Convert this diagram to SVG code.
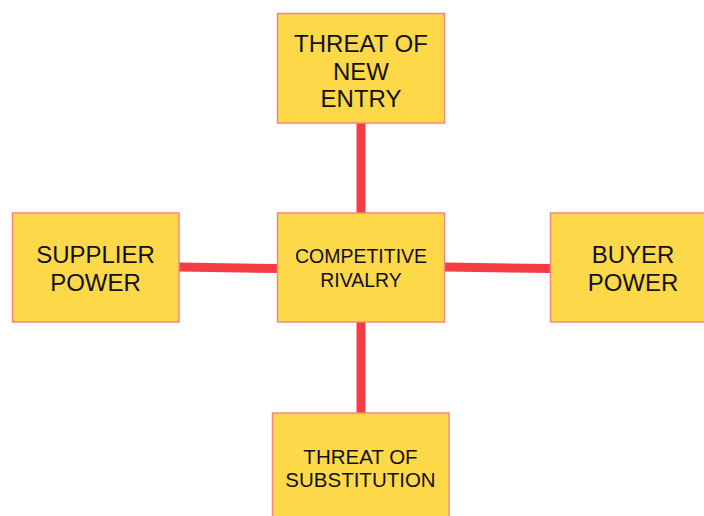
<svg xmlns="http://www.w3.org/2000/svg" width="704" height="516" viewBox="0 0 704 516">
  <style>
    .box { fill: #fdd94a; stroke: #f7877c; stroke-width: 1.5; }
    .link { stroke: #f53c44; stroke-width: 9; fill: none; }
    .lbl { font-family: "Liberation Sans", Arial, sans-serif; fill: #111; text-anchor: middle; }
    .big { font-size: 24px; }
    .mid { font-size: 19.5px; }
    .sml { font-size: 20.5px; }
  </style>
  <rect width="704" height="516" fill="#ffffff"/>

  <!-- spokes joining the centre box to the four forces -->
  <g id="connectors">
    <line class="link" x1="361" y1="123" x2="361" y2="213"/>
    <line class="link" x1="361" y1="322" x2="361" y2="413"/>
    <line class="link" x1="179" y1="267" x2="278" y2="268.5"/>
    <line class="link" x1="444" y1="267" x2="551" y2="268.5"/>
  </g>

  <g id="threat-new-entry">
    <rect class="box" x="277.5" y="13.5" width="167" height="109.5"/>
    <text class="lbl big" x="361" y="52">THREAT OF</text>
    <text class="lbl big" x="361" y="79.5">NEW</text>
    <text class="lbl big" x="361" y="107">ENTRY</text>
  </g>

  <g id="supplier-power">
    <rect class="box" x="12.5" y="213" width="166.5" height="109"/>
    <text class="lbl big" x="95.5" y="263">SUPPLIER</text>
    <text class="lbl big" x="95.5" y="291">POWER</text>
  </g>

  <g id="competitive-rivalry">
    <rect class="box" x="277.5" y="213" width="167" height="109"/>
    <text class="lbl mid" x="361" y="263">COMPETITIVE</text>
    <text class="lbl mid" x="361" y="287">RIVALRY</text>
  </g>

  <g id="buyer-power">
    <rect class="box" x="550.5" y="213" width="166.5" height="109"/>
    <text class="lbl big" x="633" y="263">BUYER</text>
    <text class="lbl big" x="633" y="291">POWER</text>
  </g>

  <g id="threat-substitution">
    <rect class="box" x="272.5" y="413" width="176.5" height="110"/>
    <text class="lbl sml" x="360.5" y="464">THREAT OF</text>
    <text class="lbl sml" x="360.5" y="487">SUBSTITUTION</text>
  </g>
</svg>
